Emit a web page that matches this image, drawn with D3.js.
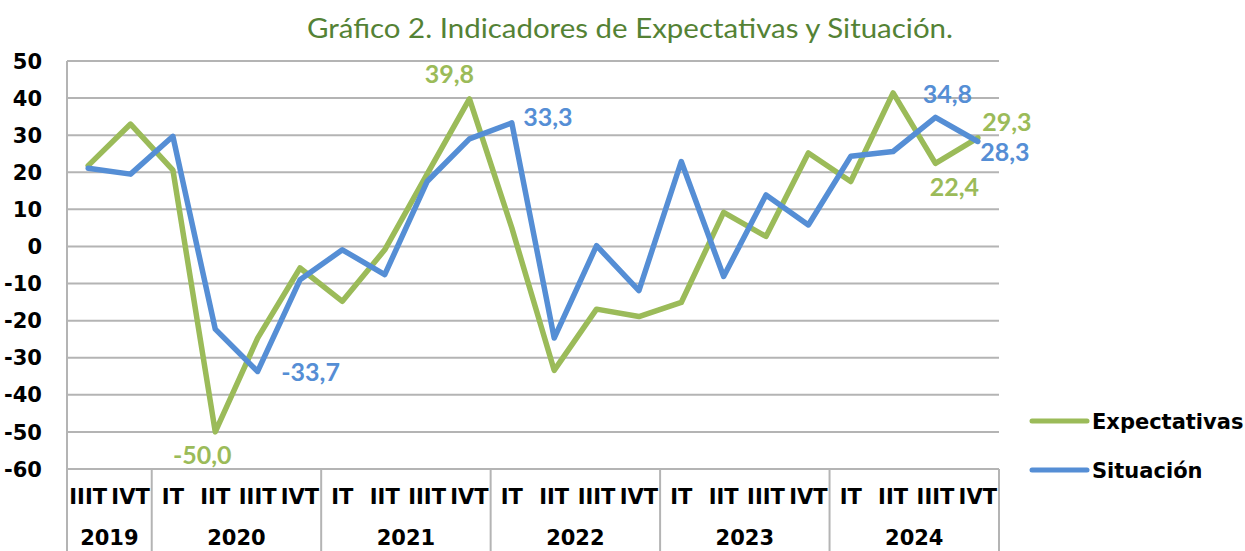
<!DOCTYPE html>
<html>
<head>
<meta charset="utf-8">
<script src="https://cdn.jsdelivr.net/npm/d3@7"></script>
<style>
  body { margin: 0; background: #fff; }
</style>
</head>
<body>
<div id="chart"></div>
<script>
var quarterLabels = ['IIIT', 'IVT',
  'IT', 'IIT', 'IIIT', 'IVT',
  'IT', 'IIT', 'IIIT', 'IVT',
  'IT', 'IIT', 'IIIT', 'IVT',
  'IT', 'IIT', 'IIIT', 'IVT',
  'IT', 'IIT', 'IIIT', 'IVT'];
var yearLabels = ['2019', '2020', '2021', '2022', '2023', '2024'];
var yearSpans = [2, 4, 4, 4, 4, 4];
var yTicks = [50, 40, 30, 20, 10, 0, -10, -20, -30, -40, -50, -60];

var expectativas = [21.8, 33.0, 20.6, -50.0, -24.7, -5.8, -14.8, -0.9, 19.5, 39.8, 5.0,
  -33.4, -16.9, -18.9, -15.1, 9.2, 2.7, 25.2, 17.5, 41.4, 22.4, 29.3];
var situacion = [21.1, 19.5, 29.7, -22.3, -33.7, -9.0, -0.9, -7.6, 17.5, 29.0, 33.3,
  -24.7, 0.2, -11.9, 22.9, -8.1, 13.9, 5.8, 24.3, 25.6, 34.8, 28.3];

var seriesNames = ['Expectativas', 'Situación'];
var colors = ['#9bbb59', '#558ed5'];

// labelled points: index in the series and label offset
var expLabels = [{i: 3, dx: -13, dy: 23}, {i: 9, dx: -20, dy: -25}, {i: 20, dx: 19, dy: 24}, {i: 21, dx: 29, dy: -16}];
var sitLabels = [{i: 4, dx: 53, dy: 1}, {i: 10, dx: 36, dy: -6}, {i: 20, dx: 12, dy: -23}, {i: 21, dx: 27, dy: 11}];

var W = 1245, H = 551;
var plot = {left: 67, right: 999, top: 61, bottom: 469};
var gridColor = '#b4b4b4';
var axisFont = 'DejaVu Sans';
var axisSize = '21px';

var svg = d3.select('#chart')
  .append('svg')
  .attr('width', W)
  .attr('height', H);

var x = d3.scaleBand()
  .domain(d3.range(quarterLabels.length))
  .range([plot.left, plot.right])
  .padding(0);
var y = d3.scaleLinear().domain([-60, 50]).range([plot.bottom, plot.top]);
var xc = (i) => x(i) + x.bandwidth() / 2;

// title
svg.append('text')
  .attr('x', 630)
  .attr('y', 38)
  .attr('text-anchor', 'middle')
  .attr('textLength', 646)
  .attr('lengthAdjust', 'spacingAndGlyphs')
  .style('font-family', 'Lato')
  .style('font-size', '27px')
  .style('fill', '#548235')
  .text('Gráfico 2. Indicadores de Expectativas y Situación.');

// gridlines
svg.append('g')
  .selectAll('line')
  .data(yTicks)
  .enter()
  .append('line')
  .attr('x1', plot.left)
  .attr('x2', plot.right)
  .attr('y1', (d) => y(d))
  .attr('y2', (d) => y(d))
  .style('stroke', gridColor)
  .style('stroke-width', 2);

// y axis line
svg.append('line')
  .attr('x1', plot.left).attr('x2', plot.left)
  .attr('y1', plot.top).attr('y2', H)
  .style('stroke', gridColor)
  .style('stroke-width', 2);

// y tick labels
svg.append('g')
  .selectAll('text')
  .data(yTicks)
  .enter()
  .append('text')
  .attr('x', 42)
  .attr('y', (d) => y(d) + 7.6)
  .attr('text-anchor', 'end')
  .style('font-family', axisFont)
  .style('font-weight', 'bold')
  .style('font-size', axisSize)
  .style('fill', '#000')
  .text((d) => d);

// year separators
var bounds = [0];
yearSpans.forEach(function(s) { bounds.push(bounds[bounds.length - 1] + s); });
var bx = (b) => b < quarterLabels.length ? x(b) : plot.right;
svg.append('g')
  .selectAll('line')
  .data(bounds)
  .enter()
  .append('line')
  .attr('x1', bx)
  .attr('x2', bx)
  .attr('y1', plot.bottom)
  .attr('y2', H)
  .style('stroke', gridColor)
  .style('stroke-width', 2);

// quarter labels
svg.append('g')
  .selectAll('text')
  .data(quarterLabels)
  .enter()
  .append('text')
  .attr('x', (d, i) => xc(i))
  .attr('y', 504)
  .attr('text-anchor', 'middle')
  .style('font-family', axisFont)
  .style('font-weight', 'bold')
  .style('font-size', axisSize)
  .text((d) => d);

// year labels
svg.append('g')
  .selectAll('text')
  .data(yearLabels)
  .enter()
  .append('text')
  .attr('x', (d, i) => (bx(bounds[i]) + bx(bounds[i + 1])) / 2)
  .attr('y', 545)
  .attr('text-anchor', 'middle')
  .style('font-family', axisFont)
  .style('font-weight', 'bold')
  .style('font-size', axisSize)
  .text((d) => d);

// lines
var line = d3.line()
  .x((d, i) => xc(i))
  .y((d) => y(d));

[expectativas, situacion].forEach(function(series, k) {
  svg.append('path')
    .datum(series)
    .attr('d', line)
    .style('fill', 'none')
    .style('stroke', colors[k])
    .style('stroke-width', 5.5)
    .style('stroke-linejoin', 'round')
    .style('stroke-linecap', 'round');
});

// data labels
var fmt = (v) => v.toFixed(1).replace('.', ',');
[[expectativas, expLabels], [situacion, sitLabels]].forEach(function(pair, k) {
  svg.append('g')
    .selectAll('text')
    .data(pair[1])
    .enter()
    .append('text')
    .attr('x', (d) => xc(d.i) + d.dx)
    .attr('y', (d) => y(pair[0][d.i]) + d.dy)
    .attr('dy', '0.36em')
    .attr('text-anchor', 'middle')
    .style('font-family', 'Lato')
    .style('font-weight', 'bold')
    .style('font-size', '25px')
    .style('fill', colors[k])
    .text((d) => fmt(pair[0][d.i]));
});

// legend
var legend = svg.append('g')
  .selectAll('g')
  .data(seriesNames)
  .enter()
  .append('g')
  .attr('transform', (d, i) => 'translate(1032,' + (421 + i * 49) + ')');

legend.append('line')
  .attr('x1', 0).attr('x2', 55)
  .attr('y1', 0).attr('y2', 0)
  .style('stroke', (d, i) => colors[i])
  .style('stroke-width', 5)
  .style('stroke-linecap', 'round');

legend.append('text')
  .attr('x', 60)
  .attr('y', 7.6)
  .style('font-family', axisFont)
  .style('font-weight', 'bold')
  .style('font-size', axisSize)
  .text((d) => d);
</script>
</body>
</html>
